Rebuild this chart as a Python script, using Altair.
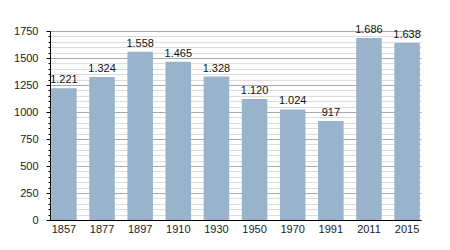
import altair as alt
import pandas as pd

years = ["1857", "1877", "1897", "1910", "1930", "1950", "1970", "1991", "2011", "2015"]
population = [1221, 1324, 1558, 1465, 1328, 1120, 1024, 917, 1686, 1638]
labels = ["1.221", "1.324", "1.558", "1.465", "1.328", "1.120", "1.024", "917", "1.686", "1.638"]
major_ticks = [0, 250, 500, 750, 1000, 1250, 1500, 1750]
minor_ticks = list(range(0, 1751, 50))

df = pd.DataFrame({"year": years, "pop": population, "label": labels})

FONT = "Liberation Sans"
yscale = alt.Scale(domain=[0, 1750], nice=False)
xenc = alt.X("year:N", sort=years,
             scale=alt.Scale(paddingInner=0.33, paddingOuter=0.03),
             axis=alt.Axis(title=None, labelAngle=0, ticks=False, domainColor="#000000",
                           labelFont=FONT, labelFontSize=11, labelColor="#222222",
                           labelPadding=3, grid=False))

minor = alt.Chart(df).mark_bar(opacity=0).encode(
    x=xenc,
    y=alt.Y("pop:Q", scale=yscale,
            axis=alt.Axis(title=None, values=minor_ticks, labels=False, domain=False,
                          tickSize=2, tickColor="#000000", grid=True, gridColor="#dddddd",
                          gridWidth=1, orient="left")),
)

bars = alt.Chart(df).mark_bar(color="#9ab3cd").encode(
    x=xenc,
    y=alt.Y("pop:Q", scale=yscale,
            axis=alt.Axis(title=None, values=major_ticks, format="d", tickSize=4,
                          tickColor="#000000", domainColor="#000000", grid=True,
                          gridColor="#aaaaaa", labelFont=FONT, labelFontSize=11,
                          labelColor="#222222", labelPadding=8, orient="left")),
)

text = alt.Chart(df).mark_text(dy=-8, font=FONT, fontSize=11, color="#111111").encode(
    x=alt.X("year:N", sort=years),
    y=alt.Y("pop:Q", scale=yscale, axis=None),
    text="label:N",
)

chart = alt.layer(minor, bars, text).resolve_axis(y="independent").properties(
    width=371, height=189,
    padding={"left": 50, "top": 31, "right": 29, "bottom": 30},
    autosize="none",
).configure_view(stroke=None).configure_axis(domainWidth=1)

chart.save("out.html", embed_options={"renderer": "svg", "actions": False})
